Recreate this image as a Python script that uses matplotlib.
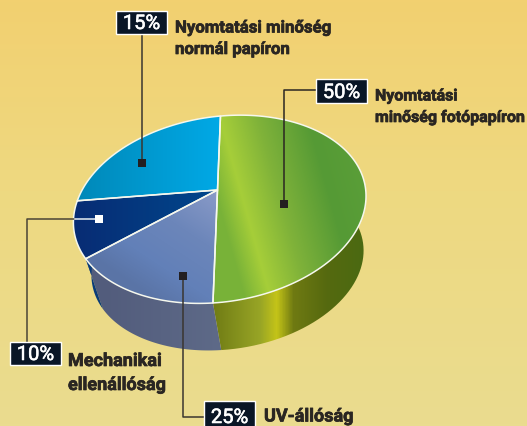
"""Perspective pie with callout labels, drawn in pixel coordinates."""

import numpy as np
import matplotlib
matplotlib.use("Agg")
import matplotlib.pyplot as plt
import matplotlib.patheffects as pe
from matplotlib.colors import LinearSegmentedColormap
from matplotlib.patches import Polygon, Rectangle

# wedge sizes clockwise from the top, as they are drawn
wedge_names = ["foto", "mech", "uv", "normal"]
wedge_shares = [50, 15, 10, 25]

# callout texts as printed
callout_pcts = ["15%", "50%", "10%", "25%"]
callout_lines = [
    ["Nyomtatási minőség", "normál papíron"],
    ["Nyomtatási", "minőség fotópapíron"],
    ["Mechanikai", "ellenállóság"],
    ["UV-állóság"],
]

W, H = 527, 426
INK = "#2a2622"

# top face, side wall gradients: (x0, x1, slant, [(pos, colour), ...])
top_grad = {
    "foto": (214, 366, 0.28, [(0, "#78b238"), (0.17, "#a6ce39"), (0.42, "#7fb23a"),
                              (0.75, "#559a35"), (1, "#5a9e38")]),
    "mech": (-10, 217, 1.5, [(0, "#5a74a6"), (0.25, "#6280b8"), (0.6, "#6c86ba"), (1, "#8a9bc8")]),
    "uv": (74, 217, 0, [(0, "#082c74"), (1, "#00478c")]),
    "normal": (78, 220, 0, [(0, "#0089b9"), (1, "#00a9e6")]),
}
wall_grad = {
    "foto": (214, 366, 0, [(0, "#717d15"), (0.3, "#98a526"), (0.41, "#c4c418"),
                           (0.52, "#6f7a12"), (0.74, "#55690f"), (1, "#4a6a12")]),
    "mech": (100, 222, 0, [(0, "#525c7c"), (1, "#5e6a88")]),
    "uv": (85, 110, 0, [(0, "#0a3c78"), (1, "#0a3c78")]),
    "normal": (74, 100, 0, [(0, "#0a3c78"), (1, "#0a3c78")]),
}


def project(theta):
    """Disc angle (clockwise from the top) to picture pixels of the top rim."""
    sx, sy = np.sin(theta), np.cos(theta)
    w = 1 + 0.2086 * sy - 0.02 * sx
    return 217.5 + (143 * sx + 3.6 * sy) / w, 190 - (89.4 * sy + 11 * sx) / w


def project_low(theta):
    x, y = project(theta)
    return 217 + 0.93 * (x - 217) + 8, 190 + 0.93 * (y - 190) + 55


def gradient_fill(ax, verts, grad, zorder):
    x0, x1, slant, stops = grad
    cmap = LinearSegmentedColormap.from_list("g", stops)
    xx, yy = np.meshgrid(np.arange(W), np.arange(H))
    u = np.clip((xx - slant * (yy - 190) - x0) / (x1 - x0), 0, 1)
    im = ax.imshow(u, cmap=cmap, vmin=0, vmax=1, extent=(0, W, H, 0),
                   aspect="auto", zorder=zorder, interpolation="bilinear")
    clip = Polygon(verts, closed=True, transform=ax.transData, fill=False, lw=0)
    ax.add_patch(clip)
    im.set_clip_path(clip)


fig = plt.figure(figsize=(W / 100, H / 100), dpi=100)
ax = fig.add_axes([0, 0, 1, 1])

# backdrop
bg = LinearSegmentedColormap.from_list("bg", [(0, "#f2d070"), (0.45, "#eed981"), (1, "#eadc8f")])
ax.imshow(np.linspace(0, 1, H).reshape(-1, 1), cmap=bg, extent=(0, W, H, 0),
          aspect="auto", zorder=0)

edges = np.cumsum([0] + wedge_shares) / sum(wedge_shares) * 2 * np.pi

# side walls first, the top face covers what is hidden
for i, name in enumerate(wedge_names):
    t = np.linspace(edges[i], edges[i + 1], 80)
    xt, yt = project(t)
    xl, yl = project_low(t)
    verts = np.column_stack([np.r_[xt, xl[::-1]], np.r_[yt, yl[::-1]]])
    gradient_fill(ax, verts, wall_grad[name], 1 + i * 0.01)

# top face
for i, name in enumerate(wedge_names):
    t = np.linspace(edges[i], edges[i + 1], 120)
    xt, yt = project(t)
    verts = np.column_stack([np.r_[217.5, xt], np.r_[190, yt]])
    gradient_fill(ax, verts, top_grad[name], 2)
    ax.add_patch(Polygon(verts, closed=True, fill=False, ec="#f6f8ee", lw=1.1,
                         joinstyle="round", zorder=3))

# leader lines and end markers
ax.plot([142, 142], [34, 163], color="#3a3630", lw=1.1, zorder=4)
ax.plot([316, 284, 284], [90, 90, 204], color="#2a2622", lw=1.1, zorder=4)
ax.plot([27, 27, 75], [342, 219, 219], color="#4a4436", lw=1.1, zorder=4)
ax.plot([75, 99], [219, 219], color="#e8eef2", lw=1.1, zorder=4)
ax.plot([183, 183, 204], [276, 417, 417], color="#3a3630", lw=1.1, zorder=4)
ax.plot([142], [163], "s", color="#231f20", ms=6.4, mew=0, zorder=5)
ax.plot([284], [204], "s", color="#231f20", ms=6.4, mew=0, zorder=5)
ax.plot([183], [276], "s", color="#231f20", ms=6.4, mew=0, zorder=5)
ax.plot([99], [219], "s", color="white", ms=6.4, mew=0, zorder=5)

# callouts: box left, top, bottom, then text x, baselines and size
box_pos = [(116, 11, 34), (316, 79, 103), (10, 342, 365), (204, 401, 428)]
text_pos = [(175, [32.5, 54], 12.1), (375, [100.5, 122], 11.5), (68, [366, 390], 13), (264, [421.5], 13)]

for pct, lines, (bx, by0, by1), (tx, bases, size) in zip(callout_pcts, callout_lines, box_pos, text_pos):
    ax.add_patch(Rectangle((bx, by0), 51, by1 - by0, fc="#0a1626", ec="white", lw=1, zorder=6))
    t = ax.text(bx + 25.5, by1 - 5 if by1 < 426 else 423, pct, color="white", fontsize=14.5,
                ha="center", va="baseline", family="Roboto", zorder=7)
    t.set_path_effects([pe.withStroke(linewidth=0.4, foreground="white")])
    for line, base in zip(lines, bases):
        t = ax.text(tx, base, line, color=INK, fontsize=size, fontweight="bold", family="Roboto",
                    va="baseline", ha="left", zorder=7)
        t.set_path_effects([pe.withStroke(linewidth=0.5, foreground=INK)])

ax.set_xlim(0, W)
ax.set_ylim(H, 0)
ax.axis("off")

fig.savefig("out.png", dpi=100)
plt.close(fig)
